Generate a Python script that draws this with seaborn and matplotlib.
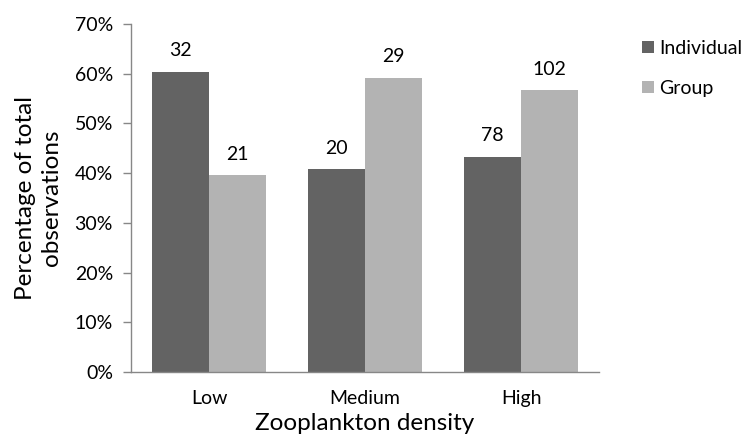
import pandas as pd
import seaborn as sns
import matplotlib.pyplot as plt
from matplotlib.ticker import PercentFormatter

densities = ["Low", "Medium", "High"]
individual_pct = [60.4, 40.8, 43.3]
group_pct = [39.6, 59.2, 56.7]
individual_n = [32, 20, 78]
group_n = [21, 29, 102]

df = pd.DataFrame({
    "Density": densities * 2,
    "Pct": individual_pct + group_pct,
    "Type": ["Individual"] * 3 + ["Group"] * 3,
})

sns.set_style("white")
plt.rcParams["font.family"] = ["Lato", "DejaVu Sans"]
plt.rcParams["text.color"] = "black"

fig = plt.figure(figsize=(7.43, 4.46), dpi=100)
ax = fig.add_axes([0.1763, 0.166, 0.630, 0.780])

sns.barplot(data=df, x="Density", y="Pct", hue="Type", order=densities,
            palette=["#636363", "#b3b3b3"], saturation=1, width=0.73,
            linewidth=0, ax=ax)

for cont, labels in zip(ax.containers, [individual_n, group_n]):
    ax.bar_label(cont, labels=[str(v) for v in labels], padding=9, fontsize=14)

ax.set_ylim(0, 70)
ax.set_xlim(-0.5, 2.5)
ax.set_yticks(range(0, 71, 10))
ax.yaxis.set_major_formatter(PercentFormatter(decimals=0))
ax.tick_params(axis="y", length=6, width=1, color="#878787", left=True,
               labelsize=14, pad=7, labelcolor="black")
ax.tick_params(axis="x", length=0, labelsize=14, pad=13, labelcolor="black")
for s in ["top", "right"]:
    ax.spines[s].set_visible(False)
for s in ["left", "bottom"]:
    ax.spines[s].set_color("#878787")
    ax.spines[s].set_linewidth(1)

ax.set_xlabel("Zooplankton density", fontsize=17.5, labelpad=4, color="black")
ax.set_ylabel("Percentage of total\nobservations", fontsize=17.5, labelpad=9,
              color="black", linespacing=1.3)

ax.legend(loc="upper left", bbox_to_anchor=(1.054, 1.005), frameon=False,
          fontsize=14, handlelength=0.6, handleheight=0.6, labelspacing=1.2,
          handletextpad=0.3)

fig.savefig("out.png", dpi=100)
